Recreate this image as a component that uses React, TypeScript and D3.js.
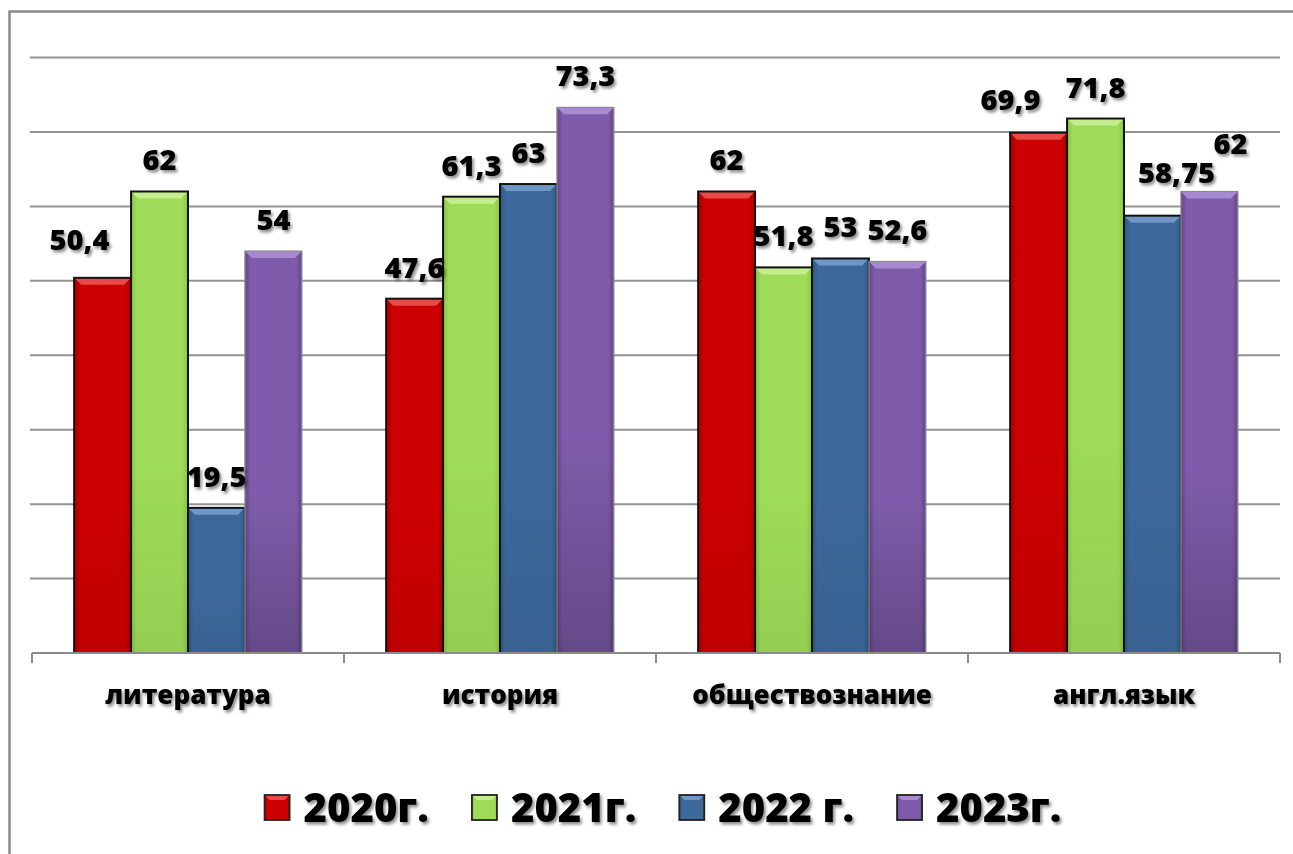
import React, { useEffect, useRef } from "react";
import * as d3 from "d3";

const categories = ["литература", "история", "обществознание", "англ.язык"];
const seriesNames = ["2020г.", "2021г.", "2022 г.", "2023г."];
const values2020 = [50.4, 47.6, 62, 69.9];
const values2021 = [62, 61.3, 51.8, 71.8];
const values2022 = [19.5, 63, 53, 58.75];
const values2023 = [54, 73.3, 52.6, 62];
const yTicks = [0, 10, 20, 30, 40, 50, 60, 70, 80];

const seriesValues = [values2020, values2021, values2022, values2023];

const palette = [
  { base: "#CC0000", light: "#E84A4A", dark: "#A80000", stroke: "#111" },
  { base: "#9EDB58", light: "#C4EE8E", dark: "#86C443", stroke: "#111" },
  { base: "#3D689C", light: "#6E97C8", dark: "#2F5686", stroke: "#111" },
  { base: "#7E5CAB", light: "#A88AD0", dark: "#62468A", stroke: "#8a8a8a" },
];

// small label nudges to mimic the original's manual placement
const nudge: Record<string, [number, number]> = {
  "0-0": [-23, -7],
  "3-0": [-28, -2],
  "3-2": [24, -12],
  "3-3": [21, -16],
};

export default function App() {
  const ref = useRef<SVGSVGElement>(null);

  useEffect(() => {
    const svg = d3.select(ref.current);
    svg.selectAll("*").remove();
    const W = 1293, H = 854;
    const font = "'Open Sans', 'DejaVu Sans', sans-serif";

    const defs = svg.append("defs");
    const f = defs.append("filter").attr("id", "tshadow").attr("x", "-20%").attr("y", "-30%").attr("width", "150%").attr("height", "170%");
    f.append("feDropShadow").attr("dx", 2).attr("dy", 2.5).attr("stdDeviation", 1.6).attr("flood-color", "#000").attr("flood-opacity", 0.45);

    palette.forEach((p, i) => {
      const g = defs.append("linearGradient").attr("id", `hg${i}`).attr("x1", 0).attr("x2", 1).attr("y1", 0).attr("y2", 0);
      g.append("stop").attr("offset", "0").attr("stop-color", p.dark);
      g.append("stop").attr("offset", "0.1").attr("stop-color", p.base);
      g.append("stop").attr("offset", "0.9").attr("stop-color", p.base);
      g.append("stop").attr("offset", "1").attr("stop-color", p.dark);
      const v = defs.append("linearGradient").attr("id", `vg${i}`).attr("x1", 0).attr("x2", 0).attr("y1", 0).attr("y2", 1);
      v.append("stop").attr("offset", "0").attr("stop-color", "#000").attr("stop-opacity", 0);
      v.append("stop").attr("offset", "0.6").attr("stop-color", "#000").attr("stop-opacity", 0);
      v.append("stop").attr("offset", "1").attr("stop-color", "#000").attr("stop-opacity", i === 3 ? 0.2 : 0.06);
    });

    svg.append("rect").attr("width", W).attr("height", H).attr("fill", "#fff");
    svg.append("rect").attr("x", 9.5).attr("y", 11.5).attr("width", W + 50).attr("height", H + 50)
      .attr("fill", "none").attr("stroke", "#8a8a8a").attr("stroke-width", 2.5);

    const x0 = d3.scaleBand<string>().domain(categories).range([32, 1280]).padding(0);
    const x1 = d3.scaleBand<number>().domain([0, 1, 2, 3]).range([0, x0.bandwidth()]).paddingInner(0).paddingOuter(0.74);
    const y = d3.scaleLinear().domain([0, 80]).range([653, 57.5]);

    // gridlines
    svg.append("g").selectAll("line").data(yTicks.filter(t => t > 0)).join("line")
      .attr("x1", 30).attr("x2", 1280).attr("y1", d => y(d)).attr("y2", d => y(d))
      .attr("stroke", "#939393").attr("stroke-width", 2);

    // bars
    const bw = x1.bandwidth();
    categories.forEach((c, ci) => {
      seriesValues.forEach((vals, si) => {
        const v = vals[ci];
        const bx = (x0(c) as number) + (x1(si) as number);
        const by = y(v);
        const bh = y(0) - by;
        const p = palette[si];
        const g = svg.append("g");
        g.append("rect").attr("x", bx).attr("y", by).attr("width", bw).attr("height", bh).attr("fill", `url(#hg${si})`);
        g.append("rect").attr("x", bx).attr("y", by).attr("width", bw).attr("height", bh).attr("fill", `url(#vg${si})`);
        const bev = 7;
        g.append("path")
          .attr("d", `M${bx},${by} L${bx + bw},${by} L${bx + bw - bev},${by + bev} L${bx + bev},${by + bev} Z`)
          .attr("fill", p.light);
        g.append("rect").attr("x", bx).attr("y", by).attr("width", bw).attr("height", bh)
          .attr("fill", "none").attr("stroke", p.stroke).attr("stroke-width", si === 3 ? 1.2 : 2);
      });
    });

    // axis
    svg.append("line").attr("x1", 32).attr("x2", 1280).attr("y1", y(0)).attr("y2", y(0))
      .attr("stroke", "#8a8a8a").attr("stroke-width", 2);
    const bounds = categories.map(c => x0(c) as number).concat([1280]);
    svg.append("g").selectAll("line").data(bounds).join("line")
      .attr("x1", d => d).attr("x2", d => d).attr("y1", y(0)).attr("y2", y(0) + 10)
      .attr("stroke", "#8a8a8a").attr("stroke-width", 2);

    // value labels
    const lbl = svg.append("g").attr("filter", "url(#tshadow)");
    categories.forEach((c, ci) => {
      seriesValues.forEach((vals, si) => {
        const v = vals[ci];
        const cx = (x0(c) as number) + (x1(si) as number) + bw / 2;
        const n = nudge[`${ci}-${si}`] || [0, 0];
        lbl.append("text").attr("x", cx + n[0]).attr("y", y(v) - 21 + n[1])
          .attr("text-anchor", "middle").attr("font-family", font).attr("font-weight", 800)
          .attr("font-size", 29).attr("fill", "#000")
          .text(String(v).replace(".", ","));
      });
    });

    // category labels
    categories.forEach(c => {
      lbl.append("text").attr("x", (x0(c) as number) + x0.bandwidth() / 2).attr("y", 704)
        .attr("text-anchor", "middle").attr("font-family", font).attr("font-weight", 800)
        .attr("font-size", 26).attr("fill", "#000").text(c);
    });

    // legend
    const leg = svg.append("g");
    const sq = 25, gapSq = 14, gapItem = 43;
    const items = seriesNames.map((name, i) => {
      const t = leg.append("text").attr("font-family", font).attr("font-weight", 800)
        .attr("font-size", 40).attr("fill", "#000").attr("filter", "url(#tshadow)").text(name);
      const w = (t.node() as SVGTextElement).getComputedTextLength();
      return { t, w, i };
    });
    const total = items.reduce((s, it) => s + sq + gapSq + it.w, 0) + gapItem * (items.length - 1);
    let cx = 663 - total / 2;
    items.forEach(it => {
      const p = palette[it.i];
      const sy = 795;
      leg.append("rect").attr("x", cx).attr("y", sy).attr("width", sq).attr("height", sq).attr("fill", `url(#hg${it.i})`);
      leg.append("path")
        .attr("d", `M${cx},${sy} L${cx + sq},${sy} L${cx + sq - 5},${sy + 5} L${cx + 5},${sy + 5} Z`)
        .attr("fill", p.light);
      leg.append("rect").attr("x", cx).attr("y", sy).attr("width", sq).attr("height", sq)
        .attr("fill", "none").attr("stroke", "#222").attr("stroke-width", 1.8);
      it.t.attr("x", cx + sq + gapSq).attr("y", 822);
      cx += sq + gapSq + it.w + gapItem;
    });
  }, []);

  return (
    <svg ref={ref} width={1293} height={854}
      style={{ position: "absolute", left: 0, top: 0, display: "block" }} />
  );
}
